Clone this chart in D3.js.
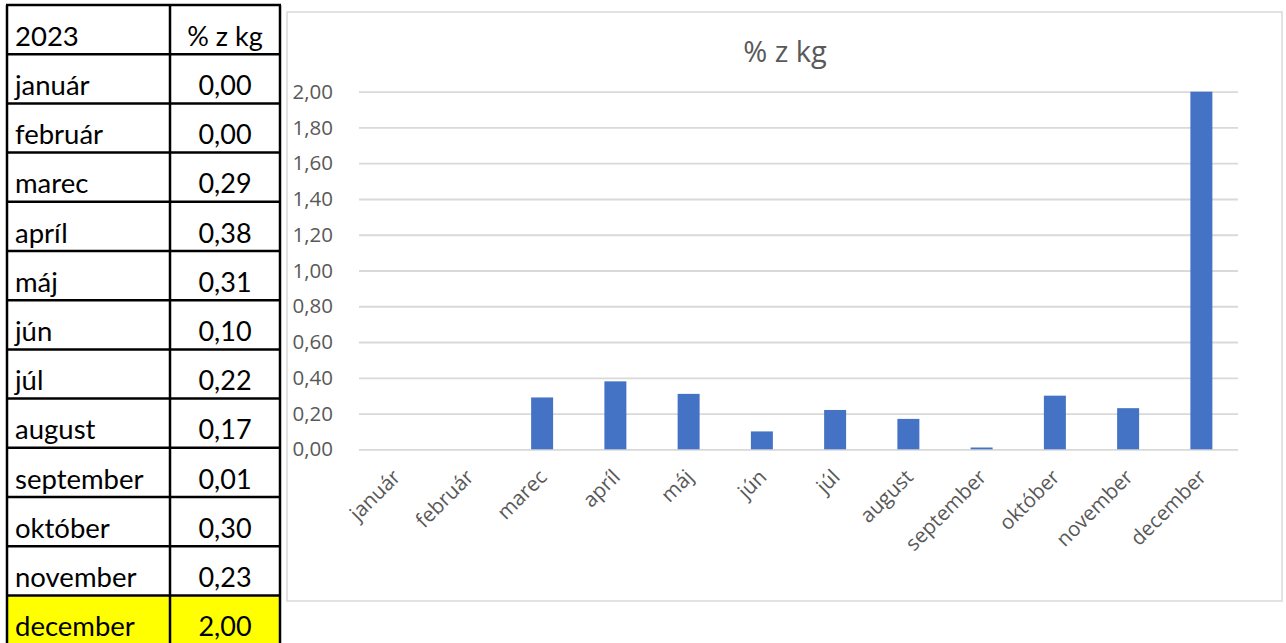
<!DOCTYPE html>
<html><head><meta charset="utf-8">
<script src="https://cdn.jsdelivr.net/npm/d3@7"></script>
<style>html,body{margin:0;padding:0;background:#fff;overflow:hidden}</style>
</head><body>
<svg id="c" width="1286" height="643"></svg>
<script>
const yearLabel = "2023";
const seriesName = "% z kg";
const months = ["január","február","marec","apríl","máj","jún","júl","august","september","október","november","december"];
const values = [0.00,0.00,0.29,0.38,0.31,0.10,0.22,0.17,0.01,0.30,0.23,2.00];
const yTicks = [0,0.2,0.4,0.6,0.8,1.0,1.2,1.4,1.6,1.8,2.0];
const highlighted = ["december"];

const svg = d3.select("#c");
svg.append("rect").attr("width",1286).attr("height",643).attr("fill","#fff");
const fmt = v => d3.format(".2f")(v).replace(".", ",");

// ---- table ----
const tX0 = 7, tX1 = 170, tX2 = 280, tY0 = 5, rowH = 49.2;
const rows = [[yearLabel, seriesName, true]].concat(months.map((m,i)=>[m, fmt(values[i]), false]));
const tbl = svg.append("g");
const rowY = d3.scaleLinear().domain([0,1]).range([tY0, tY0+rowH]);
rows.forEach((r,i)=>{
  const y = rowY(i);
  if (highlighted.includes(r[0])) {
    tbl.append("rect").attr("x",tX0).attr("y",y).attr("width",tX2-tX0).attr("height",rowH+5).attr("fill","#ffff00");
  }
  tbl.append("text").attr("x",tX0+8).attr("y",y+rowH-8.5).text(r[0])
    .attr("font-family","Lato").attr("font-size",27.5).attr("fill","#000");
  tbl.append("text").attr("x",(tX1+tX2)/2).attr("y",y+rowH-8.5).text(r[1]).attr("text-anchor","middle")
    .attr("font-family","Lato").attr("font-size",27).attr("fill","#000");
});
for (let i=0;i<=rows.length;i++){
  tbl.append("line").attr("x1",tX0-1).attr("x2",tX2+1).attr("y1",rowY(i)).attr("y2",rowY(i)).attr("stroke","#000").attr("stroke-width",2.5);
}
[tX0,tX1,tX2].forEach(x=>tbl.append("line").attr("x1",x).attr("x2",x).attr("y1",tY0).attr("y2",650).attr("stroke","#000").attr("stroke-width",2.5));

// ---- chart ----
svg.append("rect").attr("x",287).attr("y",12).attr("width",995).attr("height",589)
  .attr("fill","#fff").attr("stroke","#d9d9d9").attr("stroke-width",1.5);

const x = d3.scaleBand().domain(months).range([359,1238]).paddingInner(0.7).paddingOuter(0.35);
const y = d3.scaleLinear().domain([0,2]).range([449.3,91.7]);

svg.append("text").attr("x",785).attr("y",62).attr("text-anchor","middle")
  .attr("font-family","Open Sans").attr("font-size",29).attr("fill","#595959").text(seriesName);

const gy = svg.append("g").attr("transform","translate(359,0)")
  .call(d3.axisLeft(y).tickValues(yTicks).tickFormat(fmt).tickSize(-(1238-359)).tickPadding(26));
gy.select(".domain").remove();
gy.selectAll(".tick line").attr("stroke","#d9d9d9").attr("stroke-width",1.8);
gy.selectAll(".tick text").attr("font-family","Open Sans").attr("font-size",20.5).attr("fill","#595959");

svg.append("g").selectAll("rect").data(months).join("rect")
  .attr("x",d=>x(d)).attr("width",x.bandwidth())
  .attr("y",(d,i)=>y(values[i])).attr("height",(d,i)=>y(0)-y(values[i]))
  .attr("fill","#4472c4");

const gx = svg.append("g").attr("transform","translate(0,449.3)")
  .call(d3.axisBottom(x).tickSize(0).tickPadding(0));
gx.select(".domain").remove();
gx.selectAll(".tick text")
  .attr("font-family","Open Sans").attr("font-size",20.5).attr("fill","#595959")
  .attr("text-anchor","end").attr("dy",null).attr("y",0).attr("x",0)
  .attr("transform","translate(6,29) rotate(-45)");
</script>
</body></html>
